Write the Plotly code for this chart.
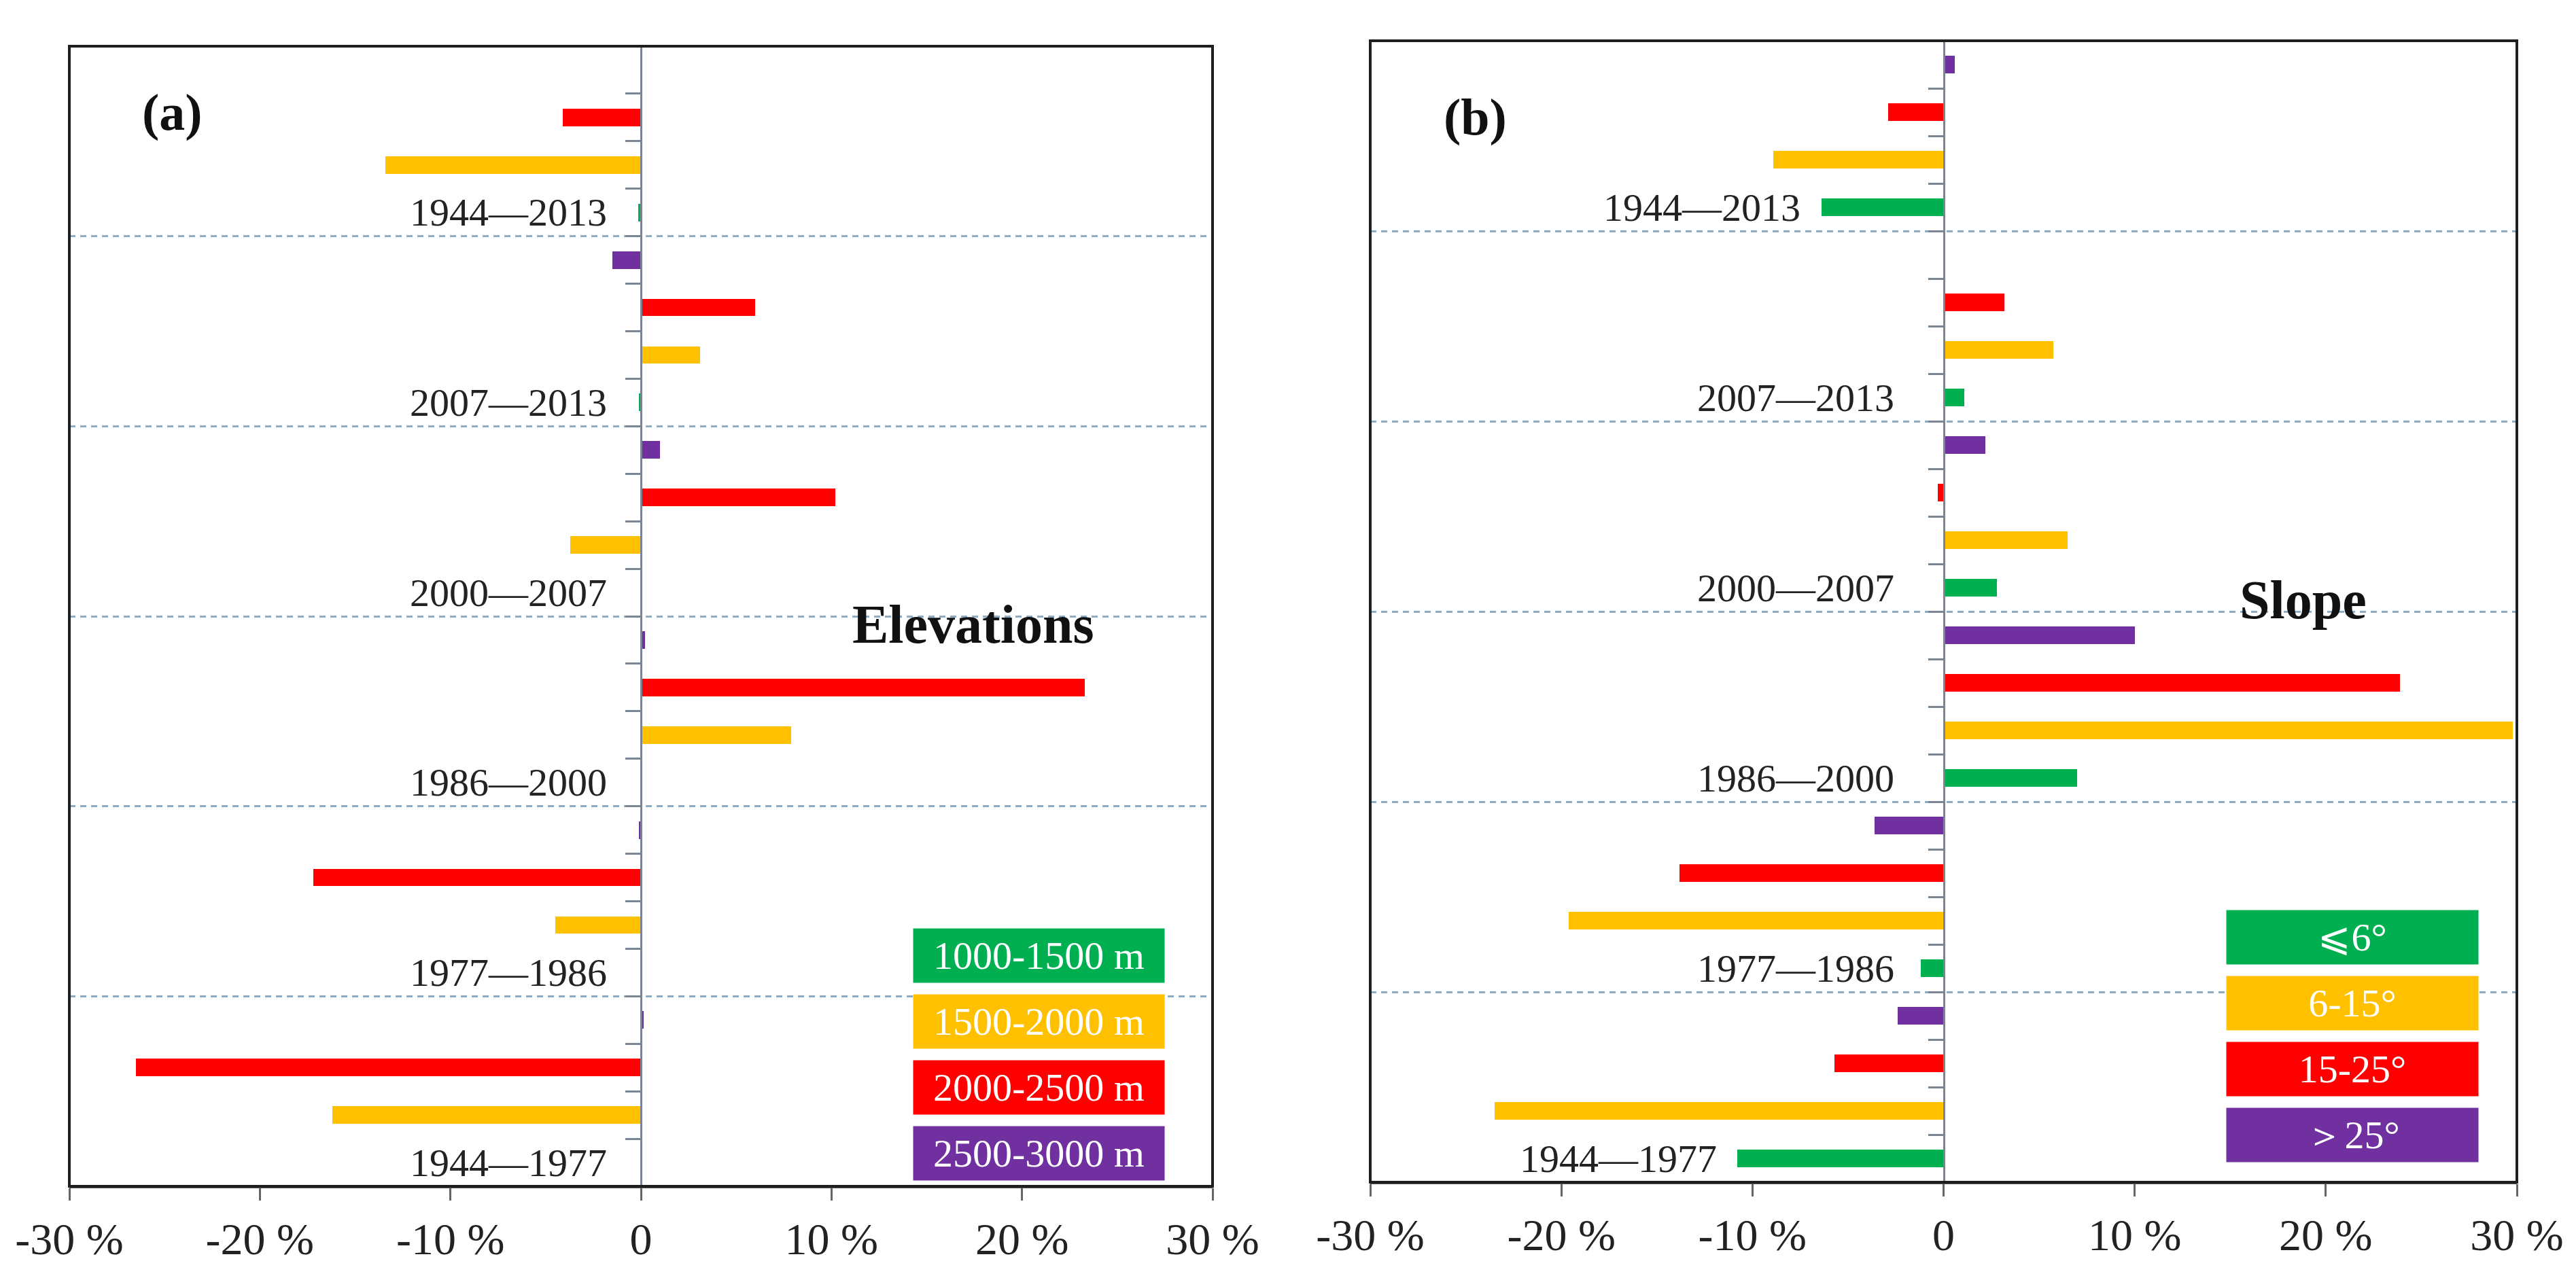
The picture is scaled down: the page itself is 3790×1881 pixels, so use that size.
import plotly.graph_objects as go

# ---------------- data ----------------
periods = ["1944—1977", "1977—1986", "1986—2000", "2000—2007", "2007—2013", "1944—2013"]  # bottom -> top

elev_names = ["1000-1500 m", "1500-2000 m", "2000-2500 m", "2500-3000 m"]
elev_green = [0.0, 0.0, 0.0, 0.0, -0.1, -0.15]
elev_yellow = [-16.2, -4.5, 7.9, -3.7, 3.1, -13.4]
elev_red = [-26.5, -17.2, 23.3, 10.2, 6.0, -4.1]
elev_purple = [0.15, -0.1, 0.2, 1.0, -1.5, 0.0]

slope_names = ["⩽6°", "6-15°", "15-25°", "＞25°"]
slope_green = [-10.8, -1.2, 7.0, 2.8, 1.1, -6.4]
slope_yellow = [-23.5, -19.6, 29.8, 6.5, 5.75, -8.9]
slope_red = [-5.7, -13.8, 23.9, -0.3, 3.2, -2.9]
slope_purple = [-2.4, -3.6, 10.0, 2.2, 0.0, 0.6]

colors = ["#00B050", "#FFC000", "#FF0000", "#7030A0"]
x_tickvals = [-30, -20, -10, 0, 10, 20, 30]
x_ticktext = ["-30 %", "-20 %", "-10 %", "0", "10 %", "20 %", "30 %"]

# ---------------- layout geometry ----------------
W, H = 3790, 1881
FONT = "Liberation Serif, Times New Roman, serif"
n_cls = 4
n_grp = len(periods)

panels = [
    dict(px=(94, 1776), py=(60, 1738), series=[elev_green, elev_yellow, elev_red, elev_purple],
         names=elev_names, tag="(a)", title="Elevations", title_xy=(17.45, 11.33), tag_xy=(-24.6, 22.1),
         label_floor=-1.7, legend_px=(1336, 1705, 1359), cross_ticks=False),
    dict(px=(2008, 3695), py=(52, 1732), series=[slope_green, slope_yellow, slope_red, slope_purple],
         names=slope_names, tag="(b)", title="Slope", title_xy=(18.8, 11.74), tag_xy=(-24.5, 21.9),
         label_floor=-2.5, legend_px=(3268, 3638, 1332), cross_ticks=True),
]

fig = go.Figure()
grid_vals = [4 * g - 0.5 for g in range(1, n_grp)]
all_bounds = [k + 0.5 for k in range(n_cls * n_grp - 1)]
minor_vals = [v for v in all_bounds if v not in grid_vals]
annotations = []
shapes = []
axis_color = "#7a8593"
yrange = [-0.5, n_cls * n_grp - 0.5]

for i, p in enumerate(panels):
    sfx = "" if i == 0 else str(i + 1)
    xd = [p["px"][0] / W, p["px"][1] / W]
    yd = [1 - p["py"][1] / H, 1 - p["py"][0] / H]
    for k, vals in enumerate(p["series"]):
        fig.add_trace(go.Bar(
            x=vals, y=[n_cls * g + k for g in range(n_grp)], orientation="h",
            width=0.37, marker=dict(color=colors[k], line=dict(width=0)),
            name=p["names"][k], showlegend=False,
            xaxis="x" + sfx, yaxis="y" + sfx,
        ))
    fig.update_layout(**{
        "xaxis" + sfx: dict(domain=xd, range=[-30, 30], anchor="y" + sfx, automargin=False,
                            tickvals=x_tickvals, ticktext=x_ticktext,
                            ticks="outside", ticklen=18, tickwidth=3, tickcolor="#666",
                            showline=True, linecolor="#555", linewidth=3,
                            showgrid=False, zeroline=False,
                            tickfont=dict(family=FONT, size=66, color="#222")),
        "yaxis" + sfx: dict(domain=yd, range=yrange, anchor="free", automargin=False,
                            position=(xd[0] + xd[1]) / 2,
                            showline=True, linecolor=axis_color, linewidth=3,
                            tickvals=grid_vals, ticks="outside", ticklen=22, tickwidth=3,
                            tickcolor=axis_color, showticklabels=False,
                            showgrid=True, gridcolor="#8fadc2", gridwidth=2.5, griddash="9px,7px",
                            zeroline=False,
                            minor=dict(tickvals=minor_vals, ticks="outside", ticklen=22,
                                       tickwidth=3, tickcolor=axis_color, showgrid=False)),
    })
    if p["cross_ticks"]:
        # right-hand half of the crossing category ticks
        fig.update_layout(**{
            "yaxis3": dict(domain=yd, range=yrange, anchor="free", overlaying="y" + sfx,
                           side="right", automargin=False, position=(xd[0] + xd[1]) / 2,
                           showline=False, tickvals=all_bounds, ticks="outside", ticklen=20,
                           tickwidth=3, tickcolor=axis_color, showticklabels=False,
                           showgrid=False, zeroline=False),
        })
    xr, yr = "x" + sfx, "y" + sfx
    shapes.append(dict(type="rect", xref=xr + " domain", yref=yr + " domain",
                       x0=0, x1=1, y0=0, y1=1, line=dict(color="#1e1e1e", width=4),
                       layer="above"))
    # period labels
    green = p["series"][0]
    for g, lab in enumerate(periods):
        annotations.append(dict(x=min(green[g] - 1.0, p["label_floor"]), y=n_cls * g,
                                xref=xr, yref=yr, text=lab, showarrow=False,
                                xanchor="right", yanchor="middle",
                                font=dict(family=FONT, size=58, color="#222")))
    # panel tag and title
    annotations.append(dict(x=p["tag_xy"][0], y=p["tag_xy"][1], xref=xr, yref=yr, text=p["tag"],
                            showarrow=False, xanchor="center", yanchor="middle",
                            font=dict(family=FONT, size=76, color="#111", weight=700)))
    annotations.append(dict(x=p["title_xy"][0], y=p["title_xy"][1], xref=xr, yref=yr, text=p["title"],
                            showarrow=False, xanchor="center", yanchor="middle",
                            font=dict(family=FONT, size=80, color="#111", weight=700)))
    # legend boxes
    lx0, lx1, ly0 = p["legend_px"]
    box_h, pitch = 79, 97
    for k, nm in enumerate(p["names"]):
        cy = ly0 + box_h / 2 + k * pitch
        annotations.append(dict(x=(lx0 + lx1) / 2 / W, y=1 - cy / H, xref="paper", yref="paper",
                                text=nm, showarrow=False, xanchor="center", yanchor="middle",
                                width=lx1 - lx0, height=box_h, bgcolor=colors[k], borderpad=0,
                                align="center", valign="middle",
                                font=dict(family=FONT, size=58, color="#ffffff")))

fig.update_layout(template="none", width=W, height=H, margin=dict(l=0, r=0, t=0, b=0, pad=0),
                  paper_bgcolor="white", plot_bgcolor="white",
                  showlegend=False, bargap=0, annotations=annotations, shapes=shapes)

fig.write_html("out.html")
